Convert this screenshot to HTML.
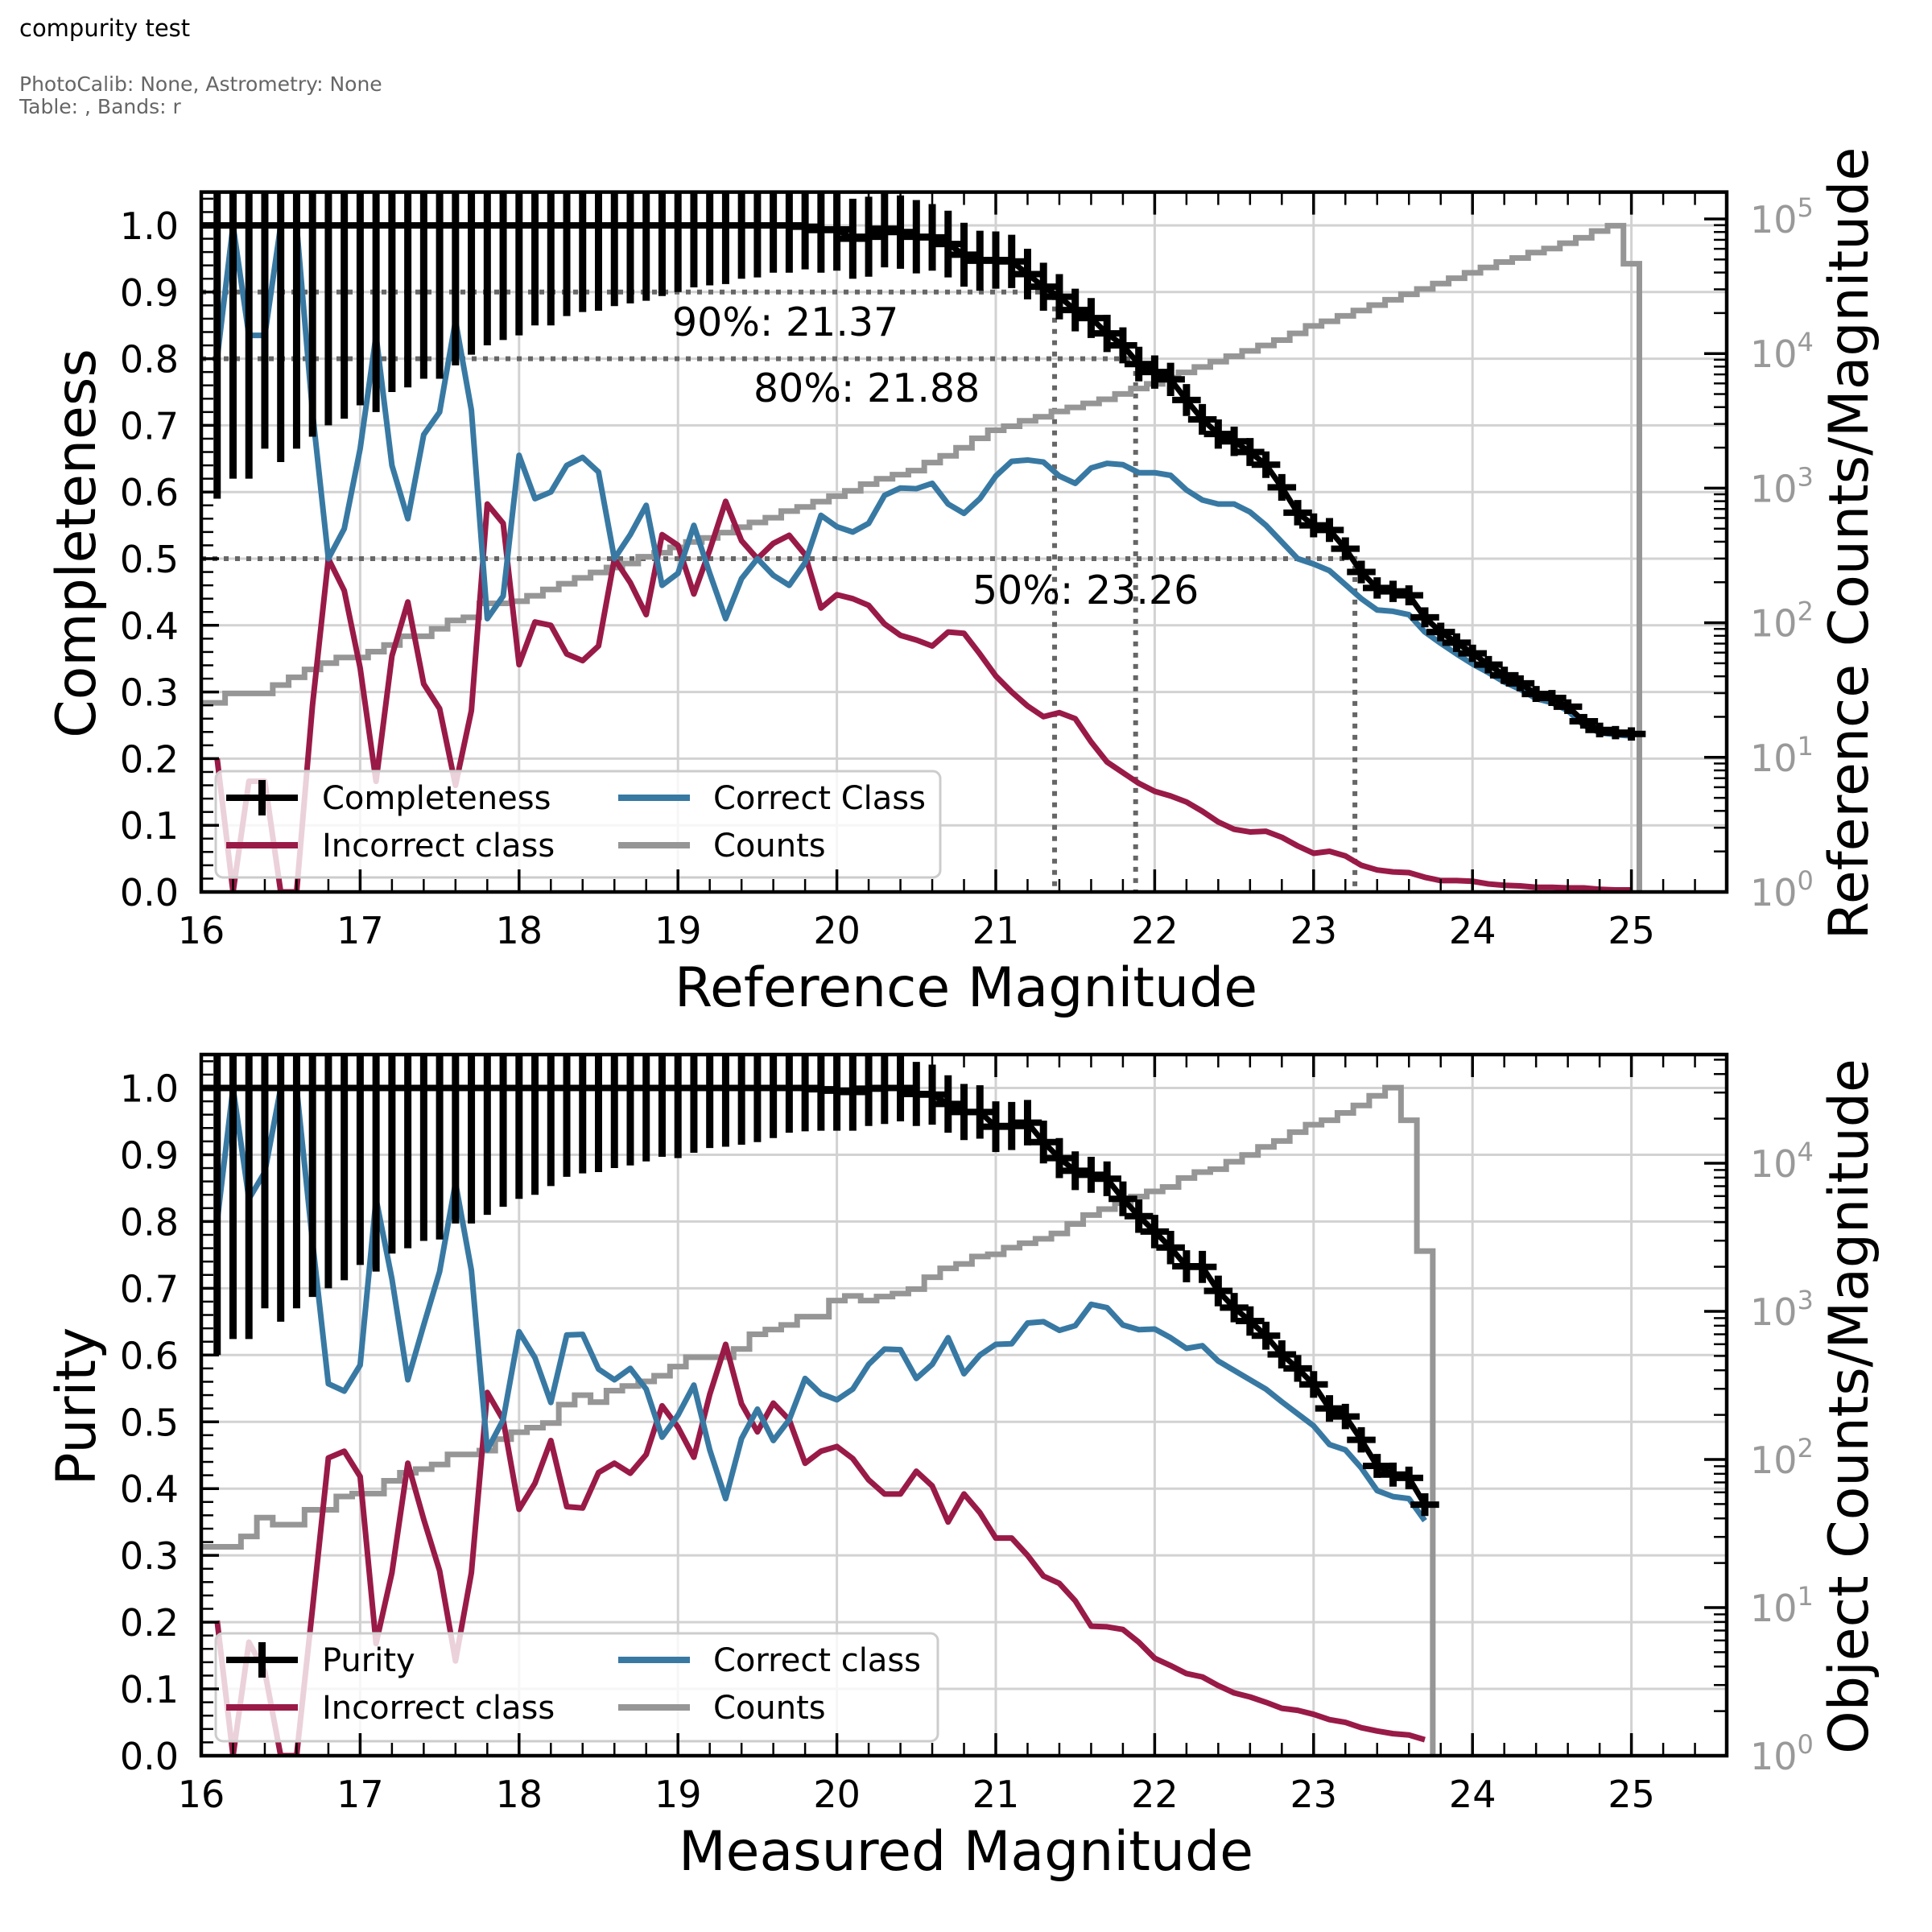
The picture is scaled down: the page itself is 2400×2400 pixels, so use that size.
<!DOCTYPE html>
<html>
<head>
<meta charset="utf-8">
<style>
html,body{margin:0;padding:0;background:#fff;}
svg{display:block;font-family:"DejaVu Sans","Liberation Sans",sans-serif;}
</style>
</head>
<body>
<svg id="fig" xmlns="http://www.w3.org/2000/svg" width="2400" height="2400" viewBox="0 0 2400 2400">
  <rect x="0" y="0" width="2400" height="2400" fill="#fff"/>
  <text x="24" y="45" font-size="29" fill="#000">compurity test</text>
  <text x="24" y="113" font-size="25" fill="#666">PhotoCalib: None, Astrometry: None</text>
  <text x="24" y="141" font-size="25" fill="#666">Table: , Bands: r</text>
  <defs>
    <clipPath id="clipTop"><rect x="250" y="238.6" width="1895" height="869.4"/></clipPath>
    <clipPath id="clipBot"><rect x="250" y="1310" width="1895" height="871"/></clipPath>
  </defs>
  <g id="topPanel"></g>
  <g id="botPanel"></g>
  <text x="1200" y="1250" font-size="68" text-anchor="middle" fill="#000">Reference Magnitude</text>
  <text x="1200" y="2323" font-size="68" text-anchor="middle" fill="#000">Measured Magnitude</text>
  <text transform="translate(118,675) rotate(-90)" font-size="68" text-anchor="middle" fill="#000">Completeness</text>
  <text transform="translate(118,1747) rotate(-90)" font-size="68" text-anchor="middle" fill="#000">Purity</text>
  <text transform="translate(2320,675) rotate(-90)" font-size="68" text-anchor="middle" fill="#000">Reference Counts/Magnitude</text>
  <text transform="translate(2320,1747) rotate(-90)" font-size="68" text-anchor="middle" fill="#000">Object Counts/Magnitude</text>
</svg>
<script>
// ---------------- data (top panel: completeness vs reference magnitude) ----------------
const topCorrect = [0.80,1.0,0.835,0.835,1.0,1.0,0.72,0.50,0.545,0.665,
0.835,0.64,0.56,0.686,0.72,0.857,0.723,0.41,0.444,0.655,
0.59,0.60,0.64,0.652,0.63,0.50,0.536,0.58,0.46,0.478,
0.55,0.478,0.41,0.47,0.50,0.475,0.46,0.494,0.565,0.548,
0.54,0.553,0.595,0.606,0.605,0.613,0.582,0.568,0.59,0.624,
0.646,0.648,0.645,0.624,0.613,0.636,0.643,0.641,0.629,0.629,
0.625,0.603,0.588,0.582,0.582,0.57,0.55,0.525,0.50,0.492,
0.482,0.461,0.44,0.423,0.421,0.416,0.39,0.373,0.357,0.342,
0.329,0.315,0.304,0.29,0.284,0.272,0.25,0.239,0.236,0.234];
const topIncorrect = [0.20,0,0.166,0.166,0,0,0.28,0.50,0.452,0.336,
0.166,0.354,0.435,0.312,0.275,0.16,0.272,0.582,0.553,0.341,
0.405,0.40,0.357,0.347,0.369,0.50,0.464,0.416,0.536,0.52,
0.447,0.513,0.586,0.527,0.50,0.523,0.535,0.506,0.426,0.446,
0.44,0.43,0.402,0.385,0.378,0.369,0.39,0.388,0.357,0.324,
0.30,0.279,0.263,0.269,0.26,0.225,0.195,0.179,0.163,0.151,
0.144,0.135,0.121,0.105,0.094,0.09,0.091,0.082,0.069,0.058,
0.061,0.054,0.04,0.033,0.03,0.029,0.022,0.017,0.017,0.016,
0.012,0.01,0.009,0.007,0.007,0.006,0.006,0.004,0.003,0.003];
const topCompleteness = [1,1,1,1,1,1,1,1,1,1,
1,1,1,1,1,1,1,1,1,1,
1,1,1,1,1,1,1,1,1,1,
1,1,1,1,1,1,1,0.998,0.993,0.994,
0.98,0.983,0.995,0.99,0.983,0.982,0.972,0.956,0.947,0.948,
0.946,0.927,0.908,0.893,0.873,0.861,0.838,0.82,0.792,0.78,
0.769,0.738,0.709,0.687,0.676,0.66,0.641,0.607,0.569,0.55,
0.543,0.515,0.48,0.456,0.451,0.445,0.412,0.39,0.374,0.358,
0.341,0.325,0.313,0.297,0.291,0.278,0.256,0.243,0.239,0.237];
const topErr = [0.41,0.38,0.38,0.335,0.355,0.335,0.317,0.30,0.29,0.27,
0.28,0.25,0.243,0.23,0.23,0.21,0.194,0.18,0.172,0.165,
0.15,0.15,0.136,0.13,0.128,0.121,0.117,0.113,0.106,0.10,
0.093,0.09,0.088,0.08,0.078,0.071,0.071,0.064,0.064,0.062,
0.06,0.06,0.058,0.055,0.055,0.05,0.05,0.048,0.045,0.043,
0.04,0.038,0.036,0.034,0.032,0.03,0.028,0.027,0.026,0.025,
0.025,0.024,0.023,0.022,0.022,0.021,0.02,0.02,0.019,0.018,
0.018,0.017,0.017,0.016,0.016,0.015,0.015,0.014,0.014,0.013,
0.013,0.013,0.012,0.012,0.012,0.011,0.011,0.011,0.01,0.01];
const topLogCounts = [1.405,1.475,1.475,1.475,1.537,1.595,1.653,1.70,1.742,1.742,
1.785,1.835,1.90,1.90,1.955,2.017,2.04,2.144,2.144,2.16,
2.20,2.247,2.29,2.333,2.374,2.41,2.44,2.49,2.52,2.56,
2.60,2.63,2.67,2.71,2.745,2.78,2.83,2.86,2.90,2.94,
2.98,3.03,3.07,3.10,3.13,3.19,3.24,3.30,3.37,3.43,
3.46,3.50,3.53,3.57,3.60,3.63,3.66,3.70,3.74,3.775,
3.82,3.86,3.90,3.94,3.98,4.02,4.06,4.10,4.15,4.205,
4.24,4.28,4.32,4.36,4.40,4.44,4.48,4.52,4.56,4.60,
4.64,4.68,4.71,4.75,4.78,4.82,4.86,4.91,4.95,4.667];
const thresholdLevels = [0.9, 0.8, 0.5];
const thresholdMags = [21.37, 21.88, 23.26];
const thresholdLabels = ["90%: 21.37", "80%: 21.88", "50%: 23.26"];

// ---------------- data (bottom panel: purity vs measured magnitude) ----------------
const botCorrect = [0.80,1,0.834,0.874,1,1,0.77,0.557,0.546,0.585,
0.834,0.714,0.563,0.645,0.725,0.858,0.727,0.458,0.503,0.635,
0.596,0.529,0.63,0.631,0.579,0.563,0.58,0.549,0.477,0.51,
0.555,0.458,0.385,0.475,0.519,0.472,0.503,0.565,0.542,0.533,
0.549,0.586,0.609,0.608,0.565,0.586,0.626,0.572,0.60,0.616,
0.617,0.648,0.65,0.637,0.644,0.676,0.671,0.645,0.638,0.639,
0.626,0.61,0.614,0.591,0.577,0.563,0.549,0.53,0.512,0.494,
0.466,0.458,0.431,0.397,0.388,0.385,0.352];
const botIncorrect = [0.202,0,0.17,0.126,0,0,0.22,0.446,0.456,0.418,
0.168,0.274,0.438,0.354,0.277,0.142,0.274,0.544,0.503,0.369,
0.408,0.472,0.373,0.371,0.424,0.438,0.423,0.451,0.524,0.492,
0.447,0.541,0.616,0.527,0.485,0.528,0.503,0.438,0.456,0.463,
0.445,0.413,0.392,0.392,0.426,0.404,0.35,0.392,0.364,0.326,
0.326,0.30,0.269,0.258,0.232,0.194,0.193,0.189,0.17,0.146,
0.135,0.123,0.118,0.105,0.094,0.088,0.08,0.071,0.068,0.062,
0.054,0.05,0.042,0.037,0.033,0.031,0.024];
const botPurity = [1,1,1,1,1,1,1,1,1,1,
1,1,1,1,1,1,1,1,1,1,
1,1,1,1,1,1,1,1,1,1,
1,1,1,1,1,1,1,1.0,0.998,0.996,
0.994,0.999,1,1,0.991,0.99,0.976,0.964,0.964,0.942,
0.943,0.948,0.919,0.895,0.876,0.87,0.864,0.834,0.808,0.785,
0.761,0.733,0.732,0.696,0.671,0.651,0.629,0.601,0.58,0.556,
0.52,0.508,0.473,0.434,0.421,0.416,0.376];
const botErr = [0.40,0.376,0.376,0.33,0.35,0.33,0.313,0.30,0.288,0.265,
0.275,0.248,0.24,0.229,0.227,0.203,0.203,0.19,0.178,0.166,
0.16,0.147,0.133,0.128,0.126,0.12,0.116,0.11,0.103,0.105,
0.097,0.09,0.088,0.085,0.081,0.075,0.067,0.065,0.062,0.06,
0.058,0.056,0.054,0.05,0.048,0.045,0.043,0.042,0.04,0.038,
0.036,0.034,0.032,0.03,0.029,0.027,0.026,0.026,0.025,0.025,
0.025,0.024,0.024,0.023,0.022,0.022,0.021,0.021,0.02,0.02,
0.02,0.019,0.019,0.018,0.018,0.017,0.017];
const botLogCounts = [1.41,1.41,1.48,1.607,1.56,1.56,1.66,1.66,1.75,1.77,
1.77,1.856,1.91,1.935,1.966,2.034,2.034,2.06,2.137,2.184,
2.215,2.246,2.37,2.434,2.387,2.465,2.496,2.527,2.565,2.627,
2.69,2.69,2.69,2.746,2.845,2.877,2.908,2.964,2.964,3.073,
3.104,3.073,3.10,3.12,3.15,3.23,3.29,3.32,3.37,3.385,
3.43,3.46,3.49,3.526,3.59,3.65,3.69,3.73,3.775,3.81,
3.84,3.90,3.94,3.96,4.01,4.056,4.11,4.15,4.21,4.26,
4.29,4.34,4.39,4.455,4.51,4.29,3.407];

const binStart = 16.1, binWidth = 0.1;
const xTickLabels = ["16","17","18","19","20","21","22","23","24","25"];
const yTickLabels = ["0.0","0.1","0.2","0.3","0.4","0.5","0.6","0.7","0.8","0.9","1.0"];

// ---------------- scales ----------------
const SVGNS = "http://www.w3.org/2000/svg";
const XL = 250, XR = 2145;
function X(m){ return XL + 197.4*(m-16); }
const PANELS = {
  top: {yT:238.6, yB:1108, unit:828, dec:167.2, maxLog:5.16, clip:"clipTop"},
  bot: {yT:1310, yB:2181, unit:829.5, dec:184, maxLog:4.73, clip:"clipBot"}
};
function Y(P, v){ return P.yB - P.unit*v; }
function YL(P, L){ return P.yB - P.dec*L; }
function binMag(i){ return binStart + binWidth*i; }

function el(tag, attrs, parent){
  const e = document.createElementNS(SVGNS, tag);
  for (const k in attrs) e.setAttribute(k, attrs[k]);
  if (parent) parent.appendChild(e);
  return e;
}

const BLUE = "#3879a3", RED = "#991a47", GRAY = "#969696";
const XERR = 0.09;

function drawPanel(gId, P, correct, incorrect, metric, err, logCounts, legendLabels, legendBox, rightTickMax){
  const g = document.getElementById(gId);
  const grid = el("g", {}, g);
  
  
  for (let k = 16; k <= 25; k++){
    const ln = el("line", {x1:X(k), x2:X(k), y1:P.yT, y2:P.yB, stroke:"#d2d2d2", "stroke-width":3}, grid);
    
    
  }
  for (let k = 0; k <= 10; k++){
    const ln = el("line", {x1:XL, x2:XR, y1:Y(P,k/10), y2:Y(P,k/10), stroke:"#d2d2d2", "stroke-width":3}, grid);
    
    
  }
  const plot = el("g", {"clip-path":"url(#"+P.clip+")"}, g);
  
  

  if (gId === "topPanel"){
    for (let t = 0; t < thresholdLevels.length; t++){
      const yv = Y(P, thresholdLevels[t]), xv = X(thresholdMags[t]);
      const p = el("path", {d:"M"+XL+","+yv+" H"+xv+" V"+P.yB, fill:"none", stroke:"#666", "stroke-width":6, "stroke-dasharray":"6 8"}, plot);
      
      
    }
  }

  const n = logCounts.length;
  let d = "M" + X(binMag(0) - binWidth) + "," + YL(P, logCounts[0]);
  for (let i = 0; i < n; i++){
    const y = YL(P, logCounts[i]);
    d += " L" + X(binMag(i) - binWidth/2) + "," + y + " L" + X(binMag(i) + binWidth/2) + "," + y;
  }
  d += " L" + X(binMag(n-1) + binWidth/2) + "," + (P.yB + 10);
  const cnt = el("path", {d:d, fill:"none", stroke:GRAY, "stroke-width":7, "stroke-linejoin":"miter"}, plot);
  
  

  const rp = incorrect.map((v,i)=>X(binMag(i))+","+Y(P,v)).join(" ");
  const red = el("polyline", {points:rp, fill:"none", stroke:RED, "stroke-width":7, "stroke-linejoin":"round"}, plot);
  
  

  const bp = correct.map((v,i)=>X(binMag(i))+","+Y(P,v)).join(" ");
  const blue = el("polyline", {points:bp, fill:"none", stroke:BLUE, "stroke-width":7, "stroke-linejoin":"round"}, plot);
  
  

  const eg = el("g", {}, plot);
  
  
  for (let i = 0; i < metric.length; i++){
    const xm = X(binMag(i));
    const v1 = el("line", {x1:xm, x2:xm, y1:Y(P, metric[i]-err[i]), y2:Y(P, metric[i]+err[i]), stroke:"#000", "stroke-width":9}, eg);
    
    
    const h1 = el("line", {x1:X(binMag(i)-XERR), x2:X(binMag(i)+XERR), y1:Y(P, metric[i]), y2:Y(P, metric[i]), stroke:"#000", "stroke-width":8}, eg);
    
    
  }
  const mp = metric.map((v,i)=>X(binMag(i))+","+Y(P,v)).join(" ");
  const ml = el("polyline", {points:mp, fill:"none", stroke:"#000", "stroke-width":7, "stroke-linejoin":"round"}, plot);
  
  

  if (gId === "topPanel"){
    const annX = [835, 936, 1208], annY = [417, 499, 750];
    for (let t = 0; t < thresholdLabels.length; t++){
      const tx = el("text", {x:annX[t], y:annY[t], "font-size":49, fill:"#000"}, g);
      tx.textContent = thresholdLabels[t];
      
      
    }
  }

  const lg = el("g", {}, g);
  
  
  el("rect", {x:legendBox.x, y:legendBox.y, width:legendBox.w, height:legendBox.h, rx:9, fill:"#fff", "fill-opacity":0.8, stroke:"#cccccc", "stroke-width":3}, lg);
  const r1 = legendBox.y + 33, r2 = legendBox.y + 92;
  const items = [
    {x1:281, x2:370, y:r1, color:"#000", label:legendLabels[0], tx:400, cross:true},
    {x1:281, x2:370, y:r2, color:RED, label:legendLabels[1], tx:400},
    {x1:768, x2:857, y:r1, color:BLUE, label:legendLabels[2], tx:886},
    {x1:768, x2:857, y:r2, color:GRAY, label:legendLabels[3], tx:886}
  ];
  items.forEach(it => {
    const entry = el("g", {}, lg);
    
    
    el("line", {x1:it.x1, x2:it.x2, y1:it.y, y2:it.y, stroke:it.color, "stroke-width":8}, entry);
    if (it.cross) el("line", {x1:(it.x1+it.x2)/2, x2:(it.x1+it.x2)/2, y1:it.y-22, y2:it.y+22, stroke:"#000", "stroke-width":9}, entry);
    const t = el("text", {x:it.tx, y:it.y+14, "font-size":40, fill:"#000"}, entry);
    t.textContent = it.label;
  });

  const sp = el("rect", {x:XL, y:P.yT, width:XR-XL, height:P.yB-P.yT, fill:"none", stroke:"#000", "stroke-width":4.5}, g);
  
  

  const tk = el("g", {stroke:"#000"}, g);
  
  
  for (let k = 0; k <= 48; k++){
    const m = 16 + k*0.2, xv = X(m);
    const major = (k % 5 === 0);
    const L = major ? 28 : 16, w = major ? 3.5 : 2.5;
    el("line", {x1:xv, x2:xv, y1:P.yB, y2:P.yB-L, "stroke-width":w}, tk);
    el("line", {x1:xv, x2:xv, y1:P.yT, y2:P.yT+L, "stroke-width":w}, tk);
  }
  xTickLabels.forEach((lab, k) => {
    const t = el("text", {x:X(16+k), y:P.yB+64, "font-size":46, "text-anchor":"middle", fill:"#000"}, g);
    t.textContent = lab;
    
    
  });
  for (let k = 0; k <= 52; k++){
    const yv = Y(P, k*0.02);
    const major = (k % 5 === 0);
    el("line", {x1:XL, x2:XL+(major?22:15), y1:yv, y2:yv, "stroke-width":major?3.5:2.5}, tk);
  }
  yTickLabels.forEach((lab, k) => {
    const t = el("text", {x:222, y:Y(P,k/10)+17, "font-size":46, "text-anchor":"end", fill:"#000"}, g);
    t.textContent = lab;
    
    
  });
  for (let dcd = 0; dcd <= 5; dcd++){
    for (let s = 1; s <= 9; s++){
      const L = dcd + Math.log10(s);
      if (L > P.maxLog) continue;
      const yv = YL(P, L);
      el("line", {x1:XR, x2:XR-(s===1?28:16), y1:yv, y2:yv, "stroke-width":s===1?3.5:2.5}, tk);
    }
  }
  for (let dcd = 0; dcd <= rightTickMax; dcd++){
    const t = el("text", {x:2174, y:YL(P,dcd)+17, "font-size":46, fill:"#999"}, g);
    t.textContent = "10";
    const sup = el("tspan", {dy:-20, "font-size":32}, t);
    sup.textContent = String(dcd);
    
    
  }
}

drawPanel("topPanel", PANELS.top, topCorrect, topIncorrect, topCompleteness, topErr, topLogCounts,
  ["Completeness","Incorrect class","Correct Class","Counts"], {x:268, y:958, w:900, h:132}, 5);
drawPanel("botPanel", PANELS.bot, botCorrect, botIncorrect, botPurity, botErr, botLogCounts,
  ["Purity","Incorrect class","Correct class","Counts"], {x:268, y:2029, w:897, h:134}, 4);
</script>
</body>
</html>
